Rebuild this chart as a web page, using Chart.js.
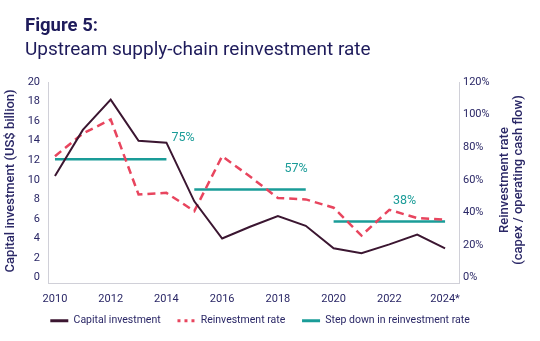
<!DOCTYPE html>
<html>
<head>
<meta charset="utf-8">
<script src="https://cdn.jsdelivr.net/npm/chart.js@4"></script>
<style>
  body { margin: 0; background: #fff; }
  #wrap { position: relative; width: 540px; height: 341px; }
  .ttl { position: absolute; left: 25px; margin: 0; font-family: Roboto, sans-serif; color: #1e1b5b; white-space: nowrap; }
  #t1 { top: 14px; font-size: 18.5px; font-weight: 700; }
  #t2 { top: 37px; font-size: 19px; font-weight: 400; }
  canvas { position: absolute; left: 0; top: 0; }
</style>
</head>
<body>
<div id="wrap">
  <canvas id="chart" width="540" height="341"></canvas>
  <div class="ttl" id="t1">Figure 5:</div>
  <div class="ttl" id="t2">Upstream supply-chain reinvestment rate</div>
</div>
<script>
const years = [2010, 2011, 2012, 2013, 2014, 2015, 2016, 2017, 2018, 2019, 2020, 2021, 2022, 2023, 2024];
const capitalInvestment = [10.4, 15.1, 18.2, 14.0, 13.8, 7.8, 4.0, 5.2, 6.3, 5.3, 3.0, 2.5, 3.4, 4.4, 3.0];
const reinvestmentRate = [74.5, 88.4, 97, 51, 52, 40.8, 74.5, 62, 48.8, 48, 42.9, 25.8, 41.6, 36.5, 35.5];
const stepPeriods = [[2010, 2014], [2015, 2019], [2020, 2024]];
const stepRates = [72.6, 54, 34.5];
const stepLabels = ["75%", "57%", "38%"];
const xTicks = [2010, 2012, 2014, 2016, 2018, 2020, 2022, 2024];
const leftTicks = [0, 2, 4, 6, 8, 10, 12, 14, 16, 18, 20];
const rightTicks = [0, 20, 40, 60, 80, 100, 120];

const navy = "#2a2766";
const teal = "#1a9c98";
const font = "Roboto, sans-serif";

const stepSets = stepPeriods.map((p, i) => ({
  label: "Step down in reinvestment rate",
  data: p.map(x => ({ x: x, y: stepRates[i] })),
  yAxisID: "y2",
  borderColor: teal,
  backgroundColor: teal,
  borderWidth: 2.5,
  pointRadius: 0,
  order: 3,
}));

const stepLabelPlugin = {
  id: "stepLabels",
  afterDatasetsDraw(chart) {
    const { ctx, scales } = chart;
    const anchors = [2014.6, 2018.65, 2022.55];
    ctx.save();
    ctx.font = "12.5px " + font;
    ctx.fillStyle = teal;
    ctx.textAlign = "center";
    ctx.textBaseline = "middle";
    stepLabels.forEach((t, i) => {
      ctx.fillText(t, scales.x.getPixelForValue(anchors[i]), scales.y2.getPixelForValue(stepRates[i]) - 21);
    });
    ctx.restore();
  }
};

const axisTitlePlugin = {
  id: "axisTitles",
  afterDraw(chart) {
    const { ctx } = chart;
    ctx.save();
    ctx.font = "500 13px " + font;
    ctx.fillStyle = navy;
    ctx.textAlign = "center";
    ctx.textBaseline = "middle";
    const put = (t, x, y) => {
      ctx.save();
      ctx.translate(x, y);
      ctx.rotate(-Math.PI / 2);
      ctx.fillText(t, 0, 0);
      ctx.restore();
    };
    put("Capital investment (US$ billion)", 11, 181);
    put("Reinvestment rate", 505, 180);
    put("(capex / operating cash flow)", 519, 180);
    ctx.restore();
  }
};

new Chart(document.getElementById("chart"), {
  type: "line",
  data: {
    datasets: [
      {
        label: "Capital investment",
        data: years.map((x, i) => ({ x: x, y: capitalInvestment[i] })),
        yAxisID: "y",
        borderColor: "#3b1631",
        backgroundColor: "#3b1631",
        borderWidth: 2,
        pointRadius: 0,
        tension: 0,
        order: 1,
      },
      {
        label: "Reinvestment rate",
        data: years.map((x, i) => ({ x: x, y: reinvestmentRate[i] })),
        yAxisID: "y2",
        borderColor: "#e8455e",
        backgroundColor: "#e8455e",
        borderWidth: 2.5,
        borderDash: [8, 5],
        pointRadius: 0,
        tension: 0,
        order: 2,
      },
      ...stepSets,
    ],
  },
  options: {
    responsive: false,
    animation: false,
    layout: { padding: { top: 82, right: 20, bottom: 5, left: 0 } },
    plugins: {
      title: { display: false },
      tooltip: { enabled: false },
      legend: {
        position: "bottom",
        labels: {
          usePointStyle: true,
          pointStyle: "line",
          pointStyleWidth: 18,
          padding: 9,
          color: navy,
          font: { family: font, size: 10.5 },
          filter: item => item.datasetIndex < 3,
          generateLabels(chart) {
            const items = Chart.defaults.plugins.legend.labels.generateLabels(chart);
            items.forEach(it => {
              it.lineWidth = 3;
              it.lineDash = it.datasetIndex === 1 ? [3, 4] : [];
              // extra gap between legend entries
              if (it.datasetIndex < 2) it.text += "   ";
            });
            return items;
          },
        },
      },
    },
    scales: {
      x: {
        type: "linear",
        min: 2009.75,
        max: 2024.5,
        grid: { display: false, drawTicks: false },
        border: { display: true, color: "#d0d0d8", width: 1 },
        afterBuildTicks: axis => { axis.ticks = xTicks.map(v => ({ value: v })); },
        afterFit: axis => { axis.height = 23; },
        ticks: {
          padding: 9,
          color: navy,
          font: { family: font, size: 11 },
          callback: v => (v === 2024 ? "2024*" : String(v)),
          maxRotation: 0,
        },
      },
      y: {
        position: "left",
        min: -0.6,
        max: 20,
        grid: { display: false, drawTicks: false },
        border: { display: true, color: "#d0d0d8", width: 1 },
        afterBuildTicks: axis => { axis.ticks = leftTicks.map(v => ({ value: v })); },
        afterFit: axis => { axis.width = 48; },
        ticks: { padding: 8, color: navy, font: { family: font, size: 11 } },
      },
      y2: {
        position: "right",
        min: -3.6,
        max: 120,
        grid: { display: false, drawTicks: false },
        border: { display: true, color: "#d0d0d8", width: 1 },
        afterBuildTicks: axis => { axis.ticks = rightTicks.map(v => ({ value: v })); },
        afterFit: axis => { axis.width = 61; },
        ticks: { padding: 4, color: navy, font: { family: font, size: 11 }, callback: v => v + "%" },
      },
    },
  },
  plugins: [stepLabelPlugin, axisTitlePlugin],
});
</script>
</body>
</html>
